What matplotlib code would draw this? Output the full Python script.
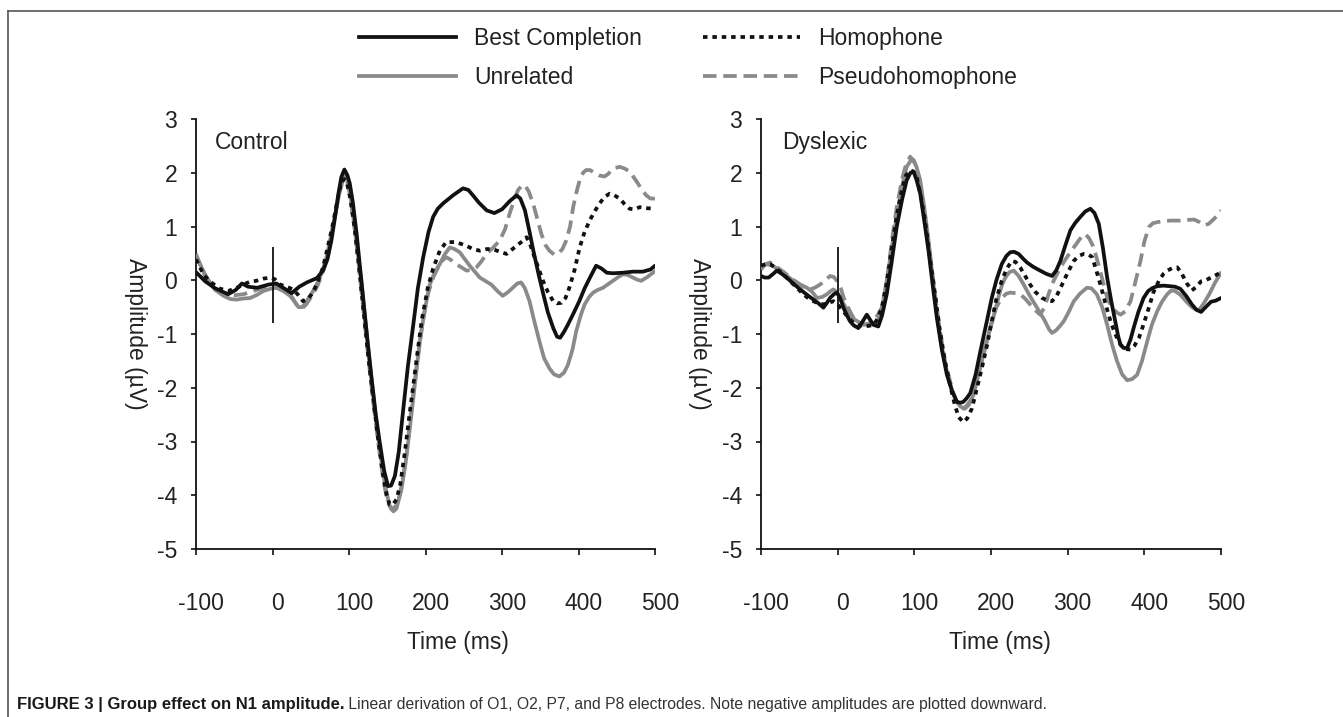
import matplotlib
matplotlib.use('Agg')
import matplotlib.pyplot as plt
from matplotlib.lines import Line2D
from matplotlib.text import Annotation
import matplotlib.transforms as mtransforms

plt.rcParams['font.family'] = ['Liberation Sans', 'DejaVu Sans']
plt.rcParams['axes.unicode_minus'] = False

# ---------------- data ----------------
series_labels = ['Best Completion', 'Unrelated', 'Homophone', 'Pseudohomophone']
panel_titles = ['Control', 'Dyslexic']
x_ticks = [-100, 0, 100, 200, 300, 400, 500]
y_ticks = [3, 2, 1, 0, -1, -2, -3, -4, -5]
onset_marker = [-0.8, 0.62]

ctrl_best_t = [-100, -88, -75, -58, -48, -40, -32, -20, -5, 5, 15, 25, 35, 45, 58, 66, 72, 77, 82, 86, 90, 94, 98, 101, 105, 110, 114, 118.5, 124, 129, 135, 140, 146, 151, 155, 160, 165, 171, 177, 184, 190, 197, 204, 210, 216, 223, 236, 249, 256, 262, 270, 280, 290, 300, 310, 319, 324, 330, 336, 341, 348, 354, 360, 367, 372, 376, 381, 386, 394, 401, 408, 415, 423, 430, 437, 445, 458, 471, 484, 494, 500]
ctrl_best_v = [0.15, -0.02, -0.15, -0.26, -0.18, -0.06, -0.12, -0.14, -0.08, -0.06, -0.15, -0.24, -0.12, -0.04, 0.04, 0.18, 0.4, 0.74, 1.2, 1.6, 1.92, 2.06, 1.95, 1.8, 1.45, 0.86, 0.3, -0.33, -1.1, -1.76, -2.5, -3.0, -3.55, -3.83, -3.82, -3.64, -3.2, -2.39, -1.6, -0.83, -0.15, 0.43, 0.9, 1.18, 1.33, 1.43, 1.58, 1.71, 1.68, 1.58, 1.44, 1.3, 1.25, 1.32, 1.47, 1.58, 1.52, 1.3, 0.9, 0.55, 0.1, -0.26, -0.6, -0.89, -1.05, -1.07, -0.96, -0.83, -0.6, -0.39, -0.15, 0.05, 0.27, 0.22, 0.14, 0.13, 0.14, 0.16, 0.16, 0.2, 0.27]

ctrl_unrel_t = [-100, -92, -86, -75, -64, -55, -47, -38, -29, -20, -12, -3, 5, 14, 23, 29, 34, 39, 44.5, 51, 57.6, 64, 70.7, 76, 81.5, 87, 92, 97, 101, 105, 110, 116, 121, 127, 133, 140, 147, 153, 158, 162, 168.6, 174, 179.5, 186, 192.6, 199, 205.6, 212, 218.7, 225, 231.7, 238, 244.8, 251, 257.9, 265, 271, 279, 286, 294, 301, 308, 314, 320, 325, 330, 336, 342, 349, 355, 362, 368, 375, 381, 386, 392, 397, 403, 408, 414, 419, 425, 432, 440, 445, 452, 458, 464, 471, 477, 482, 490, 500]
ctrl_unrel_v = [0.45, 0.22, 0.05, -0.18, -0.29, -0.35, -0.36, -0.34, -0.33, -0.27, -0.2, -0.16, -0.14, -0.2, -0.29, -0.4, -0.5, -0.5, -0.39, -0.25, -0.08, 0.12, 0.43, 0.8, 1.18, 1.6, 1.93, 1.93, 1.65, 1.24, 0.65, 0.0, -0.7, -1.51, -2.3, -3.14, -3.8, -4.2, -4.3, -4.25, -3.89, -3.4, -2.76, -1.95, -1.14, -0.55, -0.08, 0.15, 0.3, 0.48, 0.61, 0.58, 0.52, 0.4, 0.27, 0.15, 0.05, -0.02, -0.08, -0.2, -0.29, -0.22, -0.14, -0.06, -0.04, -0.15, -0.39, -0.75, -1.14, -1.45, -1.64, -1.75, -1.79, -1.72, -1.58, -1.3, -0.95, -0.65, -0.45, -0.31, -0.23, -0.18, -0.14, -0.06, -0.01, 0.06, 0.11, 0.1, 0.05, 0.01, -0.01, 0.06, 0.17]

ctrl_homo_t = [-100, -90, -80, -70, -58, -48, -38, -30, -21, -12, -3, 3, 10, 18, 27, 34, 40, 46, 53, 60, 66, 72, 79, 85, 90, 94, 97, 102, 107.7, 113, 118.5, 125, 131.6, 138, 144.7, 149, 153, 157, 162, 167, 173, 180, 188, 195, 203, 210, 218.7, 227, 240, 253.5, 262, 271, 280, 288, 297, 306, 312, 319, 326, 332, 336, 341, 347, 353.6, 360, 367, 372, 377.6, 383, 388, 395, 401.5, 408, 414.6, 421, 427.6, 434, 440.7, 447, 453.8, 460, 466.8, 473, 480, 490, 500]
ctrl_homo_v = [0.39, 0.1, -0.04, -0.15, -0.2, -0.15, -0.08, -0.03, -0.01, 0.03, 0.05, 0.02, -0.08, -0.12, -0.17, -0.28, -0.39, -0.35, -0.23, 0.0, 0.24, 0.6, 1.05, 1.5, 1.83, 1.88, 1.83, 1.5, 0.93, 0.25, -0.51, -1.4, -2.2, -2.95, -3.64, -3.98, -4.17, -4.18, -4.08, -3.8, -3.2, -2.4, -1.51, -0.75, -0.14, 0.22, 0.55, 0.71, 0.71, 0.64, 0.58, 0.55, 0.58, 0.58, 0.53, 0.49, 0.56, 0.64, 0.72, 0.8, 0.7, 0.49, 0.25, -0.01, -0.22, -0.39, -0.43, -0.42, -0.33, -0.14, 0.2, 0.61, 0.9, 1.11, 1.28, 1.43, 1.55, 1.61, 1.58, 1.52, 1.42, 1.33, 1.32, 1.36, 1.34, 1.33]

ctrl_pseudo_t = [-100, -92, -86, -75, -64, -50, -38, -25, -12, 0, 10, 18, 25, 30, 34, 39, 44, 51, 57.6, 64, 70.7, 76, 81.5, 87, 92, 97, 101, 107.7, 113, 118.5, 125, 131.6, 138, 144.7, 150, 155.5, 160, 164, 169, 175, 181, 188, 195, 203, 210, 216.5, 221, 227, 233, 240, 247, 253.5, 260, 266.6, 273, 279.6, 288, 297, 304, 310, 316, 321, 326, 330, 335, 340.6, 346, 351.5, 357, 362, 368, 373, 379, 384, 389, 393, 397, 401.5, 406, 410, 415, 421, 427, 434, 439, 443, 448, 453.8, 460, 467, 472, 477.7, 483, 488.6, 494, 500]
ctrl_pseudo_v = [0.49, 0.2, 0.0, -0.15, -0.26, -0.28, -0.26, -0.2, -0.14, -0.08, -0.12, -0.2, -0.3, -0.42, -0.51, -0.52, -0.45, -0.3, -0.14, 0.08, 0.36, 0.75, 1.18, 1.6, 1.86, 1.88, 1.6, 0.93, 0.25, -0.51, -1.4, -2.26, -3.0, -3.7, -4.1, -4.26, -4.22, -4.14, -3.8, -3.26, -2.45, -1.64, -0.9, -0.26, 0.05, 0.24, 0.35, 0.43, 0.38, 0.3, 0.24, 0.18, 0.19, 0.24, 0.35, 0.49, 0.6, 0.74, 0.95, 1.24, 1.5, 1.68, 1.76, 1.77, 1.65, 1.43, 1.15, 0.86, 0.65, 0.55, 0.48, 0.49, 0.58, 0.74, 1.0, 1.36, 1.62, 1.86, 2.0, 2.05, 2.05, 2.0, 1.95, 1.93, 1.98, 2.05, 2.09, 2.11, 2.08, 2.02, 1.92, 1.8, 1.68, 1.58, 1.52, 1.52]

dys_best_t = [-100, -95, -90, -84, -79.5, -73, -66.5, -58, -49, -40, -31.6, -25, -18.6, -14, -10, -5, -1, 3, 7.5, 12, 16, 21, 27, 32, 38, 43, 46.7, 53, 58, 64, 70, 77, 84, 90, 95, 99, 103, 107.7, 113, 118.5, 124, 129.4, 136, 142.5, 149, 155.5, 160, 164, 168, 173, 180, 186, 194, 201, 207, 214, 220, 225, 230, 236, 242, 247, 255, 264, 272, 279.6, 285, 290.5, 297, 303.6, 310, 316.6, 323, 329.7, 335, 340.6, 346, 351.5, 357, 362, 366, 369, 373, 377.6, 382, 386, 392, 399, 405, 410, 416.7, 425, 433, 440, 447, 455, 462, 468, 474, 480, 487, 493, 500]
dys_best_v = [0.08, 0.05, 0.05, 0.12, 0.18, 0.12, 0.05, -0.06, -0.17, -0.27, -0.36, -0.43, -0.51, -0.42, -0.33, -0.26, -0.23, -0.32, -0.51, -0.65, -0.76, -0.84, -0.89, -0.78, -0.64, -0.75, -0.83, -0.86, -0.65, -0.26, 0.3, 0.99, 1.5, 1.86, 2.0, 2.02, 1.86, 1.61, 1.1, 0.55, -0.1, -0.7, -1.3, -1.76, -2.05, -2.26, -2.28, -2.26, -2.2, -2.1, -1.75, -1.33, -0.8, -0.33, 0.0, 0.3, 0.45, 0.52, 0.53, 0.49, 0.4, 0.33, 0.25, 0.18, 0.12, 0.08, 0.18, 0.36, 0.65, 0.93, 1.07, 1.18, 1.28, 1.33, 1.25, 1.05, 0.6, 0.05, -0.4, -0.76, -1.05, -1.2, -1.26, -1.26, -1.1, -0.89, -0.6, -0.33, -0.2, -0.15, -0.11, -0.1, -0.11, -0.12, -0.16, -0.3, -0.45, -0.55, -0.59, -0.5, -0.4, -0.38, -0.33]

dys_unrel_t = [-100, -92.6, -85, -75, -66, -57.8, -49, -40, -33, -27, -20, -14, -9, -5.5, -1, 3, 9, 16, 22, 29, 35, 42, 48, 53, 58, 64, 70, 77, 84, 90, 95, 99, 103, 107.7, 113, 118.5, 124, 129.4, 136, 142.5, 149, 155.5, 160, 166, 171, 177, 183, 190, 196, 203, 210, 214, 218.7, 224, 229.6, 236, 242.6, 251, 260, 270, 276, 279.6, 285, 290, 295, 301, 308, 316, 325, 331, 338, 345, 351.5, 358, 364.5, 371, 377.6, 384, 390.6, 397, 403.7, 410, 416.7, 423, 429.8, 435, 440, 447, 455, 462, 468, 472, 478, 485, 492, 500]
dys_unrel_v = [0.24, 0.3, 0.27, 0.18, 0.08, -0.01, -0.08, -0.14, -0.22, -0.33, -0.31, -0.26, -0.2, -0.17, -0.22, -0.33, -0.47, -0.64, -0.73, -0.79, -0.82, -0.83, -0.81, -0.76, -0.5, -0.01, 0.55, 1.18, 1.75, 2.11, 2.22, 2.24, 2.1, 1.86, 1.35, 0.74, 0.05, -0.64, -1.25, -1.7, -2.05, -2.26, -2.35, -2.39, -2.32, -2.14, -1.8, -1.39, -1.05, -0.7, -0.3, -0.1, 0.05, 0.15, 0.18, 0.08, -0.08, -0.3, -0.51, -0.75, -0.92, -0.98, -0.93, -0.85, -0.76, -0.6, -0.39, -0.25, -0.14, -0.15, -0.26, -0.5, -0.83, -1.2, -1.51, -1.75, -1.86, -1.84, -1.76, -1.5, -1.14, -0.82, -0.58, -0.4, -0.26, -0.19, -0.2, -0.27, -0.4, -0.5, -0.55, -0.54, -0.42, -0.25, -0.05, 0.14]

dys_homo_t = [-100, -94, -88, -80, -71, -62, -53, -45, -36, -27, -18.6, -12, -5.5, 0, 7.5, 14, 20.6, 27, 33.6, 40, 46.7, 52, 57.6, 64, 70.7, 77, 83.7, 89, 94.6, 99, 103, 108, 114, 120, 127, 133, 140, 147, 153, 158, 164, 169, 175, 181, 188, 195, 201, 207, 214, 220, 227, 232, 238, 245, 251, 258, 266.6, 273, 279.6, 286, 292.7, 300, 308, 314, 321, 327, 332, 337, 342.7, 349, 355.8, 362, 369, 375, 382, 387, 392.8, 399, 405.9, 412, 419, 425, 430, 437, 443, 449, 455, 462, 468, 474, 480, 487, 494, 500]
dys_homo_v = [0.27, 0.3, 0.3, 0.22, 0.11, -0.02, -0.14, -0.26, -0.36, -0.42, -0.45, -0.42, -0.39, -0.45, -0.58, -0.7, -0.79, -0.84, -0.86, -0.85, -0.83, -0.72, -0.51, -0.05, 0.61, 1.2, 1.68, 1.95, 2.05, 2.02, 1.93, 1.6, 1.11, 0.45, -0.26, -0.9, -1.51, -1.98, -2.33, -2.55, -2.64, -2.57, -2.39, -2.05, -1.64, -1.2, -0.76, -0.35, -0.01, 0.2, 0.36, 0.34, 0.24, 0.07, -0.08, -0.22, -0.33, -0.37, -0.39, -0.28, -0.08, 0.14, 0.36, 0.45, 0.49, 0.48, 0.43, 0.2, -0.08, -0.42, -0.76, -1.0, -1.2, -1.28, -1.29, -1.22, -1.08, -0.82, -0.51, -0.22, -0.01, 0.12, 0.18, 0.23, 0.24, 0.12, -0.05, -0.19, -0.12, -0.02, 0.0, 0.05, 0.1, 0.15]

dys_pseudo_t = [-100, -94, -88, -80, -71, -62, -53, -45, -36, -30, -23, -16, -10, -5, -1, 4, 8, 14, 20.6, 27, 33.6, 40, 46.7, 52, 57.6, 64, 70.7, 77, 83.7, 89, 94.6, 99, 103, 108, 114, 120, 127, 133, 140, 147, 153, 158, 164, 169, 175, 181, 188, 195, 201, 207, 214, 220, 225, 232, 238, 245, 251, 258, 264, 270, 275, 282, 290.5, 300, 308, 315, 320, 323, 328, 334, 340, 347, 352, 358, 364, 369, 375, 382, 388, 395, 400, 406, 411, 416.7, 425, 434, 440, 447, 455, 465, 472, 478, 484, 490, 495, 500]
dys_pseudo_v = [0.2, 0.3, 0.33, 0.25, 0.16, 0.05, -0.04, -0.12, -0.17, -0.14, -0.08, 0.0, 0.08, 0.06, -0.01, -0.15, -0.33, -0.52, -0.7, -0.78, -0.83, -0.81, -0.76, -0.65, -0.51, -0.05, 0.74, 1.35, 1.86, 2.15, 2.3, 2.22, 2.11, 1.7, 1.18, 0.5, -0.26, -0.9, -1.51, -1.9, -2.2, -2.33, -2.39, -2.32, -2.2, -1.9, -1.51, -1.1, -0.76, -0.5, -0.33, -0.25, -0.23, -0.24, -0.26, -0.35, -0.45, -0.56, -0.64, -0.5, -0.26, 0.0, 0.24, 0.45, 0.61, 0.75, 0.84, 0.86, 0.78, 0.61, 0.3, -0.08, -0.35, -0.51, -0.6, -0.64, -0.58, -0.39, -0.05, 0.36, 0.72, 0.99, 1.06, 1.08, 1.1, 1.11, 1.11, 1.11, 1.12, 1.13, 1.08, 1.02, 1.05, 1.13, 1.2, 1.3]

# ---------------- styling ----------------
BLACK = '#111111'
GRAY = '#8a8a8a'
TXT = '#222222'
LW = 2.7
styles = {
    'Best Completion': dict(color=BLACK, linestyle='-', zorder=4),
    'Unrelated': dict(color=GRAY, linestyle='-', zorder=2),
    'Homophone': dict(color=BLACK, linestyle=(0, (1.2, 1.3)), dash_capstyle='butt', zorder=5),
    'Pseudohomophone': dict(color=GRAY, linestyle=(0, (3.6, 1.8)), dash_capstyle='butt', zorder=3),
}

panels = [
    {'Best Completion': (ctrl_best_t, ctrl_best_v), 'Unrelated': (ctrl_unrel_t, ctrl_unrel_v),
     'Homophone': (ctrl_homo_t, ctrl_homo_v), 'Pseudohomophone': (ctrl_pseudo_t, ctrl_pseudo_v)},
    {'Best Completion': (dys_best_t, dys_best_v), 'Unrelated': (dys_unrel_t, dys_unrel_v),
     'Homophone': (dys_homo_t, dys_homo_v), 'Pseudohomophone': (dys_pseudo_t, dys_pseudo_v)},
]

W, H = 1343, 717
fig = plt.figure(figsize=(W / 100, H / 100), dpi=100)

ax_px = [(196, 655), (761, 1221)]
ax_top, ax_bot = 119, 549
title_x = [-75, -72]
ylabel_x_px = [135, 699]
xlabel_x_px = [458, 1000]
xlabel_y_px = 642
FS = 16.5

axes = []
for i, (x0, x1) in enumerate(ax_px):
    ax = fig.add_axes([x0 / W, 1 - ax_bot / H, (x1 - x0) / W, (ax_bot - ax_top) / H])
    axes.append(ax)
    for lab in ['Unrelated', 'Pseudohomophone', 'Best Completion', 'Homophone']:
        t, v = panels[i][lab]
        ax.plot(t, v, lw=LW, solid_capstyle='round', **styles[lab])
    ax.vlines(0, onset_marker[0], onset_marker[1], color=BLACK, lw=1.3, zorder=6)
    ax.set_xlim(-100, 500)
    ax.set_ylim(-5, 3)
    ax.set_xticks(x_ticks)
    ax.set_yticks(y_ticks)
    ax.set_xticklabels([str(v) for v in x_ticks])
    ax.set_yticklabels([str(v) for v in y_ticks])
    for s in ['top', 'right']:
        ax.spines[s].set_visible(False)
    for s in ['left', 'bottom']:
        ax.spines[s].set_linewidth(1.3)
        ax.spines[s].set_color(BLACK)
    ax.tick_params(axis='x', direction='out', length=4, width=1.2, pad=27,
                   labelsize=FS, labelcolor=TXT, color=BLACK)
    ax.tick_params(axis='y', direction='out', length=3.5, width=1.2, pad=10,
                   labelsize=FS, labelcolor=TXT, color=BLACK)
    off = mtransforms.ScaledTranslation(5 / 100, 0, fig.dpi_scale_trans)
    for lbl in ax.get_xticklabels():
        lbl.set_transform(lbl.get_transform() + off)
    ax.patch.set_alpha(0)
    ax.text(title_x[i], 2.57, panel_titles[i], fontsize=FS, color=TXT,
            ha='left', va='center')
    ax.set_ylabel('Amplitude (µV)', fontsize=FS, color=TXT, rotation=270,
                  va='center', ha='center')
    ax.yaxis.set_label_coords((ylabel_x_px[i] - x0) / (x1 - x0), 0.5)
    ax.set_xlabel('Time (ms)', fontsize=FS, color=TXT, va='center', ha='center')
    ax.xaxis.set_label_coords((xlabel_x_px[i] - x0) / (x1 - x0),
                              (ax_bot - xlabel_y_px) / (ax_bot - ax_top))

# legend
handles = [Line2D([], [], lw=LW, **{k: v for k, v in styles[l].items() if k != 'zorder'})
           for l in series_labels]
fig.legend(handles, series_labels, ncol=2, loc='upper left',
           bbox_to_anchor=(359 / W, 1 - 27 / H), frameon=False, fontsize=FS,
           handlelength=4.24, handletextpad=0.79, columnspacing=2.66,
           labelspacing=0.68, borderpad=0, borderaxespad=0, labelcolor=TXT)

# frame lines around figure
fig.add_artist(Line2D([8 / W, 1], [1 - 10.5 / H, 1 - 10.5 / H], transform=fig.transFigure,
                      color='#555555', lw=1.2))
fig.add_artist(Line2D([8 / W, 8 / W], [0, 1 - 10.5 / H], transform=fig.transFigure,
                      color='#555555', lw=1.2))

# caption
t1 = fig.text(17 / W, 1 - 709 / H, 'FIGURE 3 | Group effect on N1 amplitude.',
              fontsize=12, fontweight='bold', color='#1a1a1a',
              ha='left', va='baseline')
fig.add_artist(Annotation(' Linear derivation of O1, O2, P7, and P8 electrodes. '
                          'Note negative amplitudes are plotted downward.',
                          xy=(1, 0), xycoords=t1, xytext=(0, 0), textcoords='offset points',
                          fontsize=11.3, color='#333333',
                          ha='left', va='bottom'))

fig.savefig('out.png', dpi=100)
